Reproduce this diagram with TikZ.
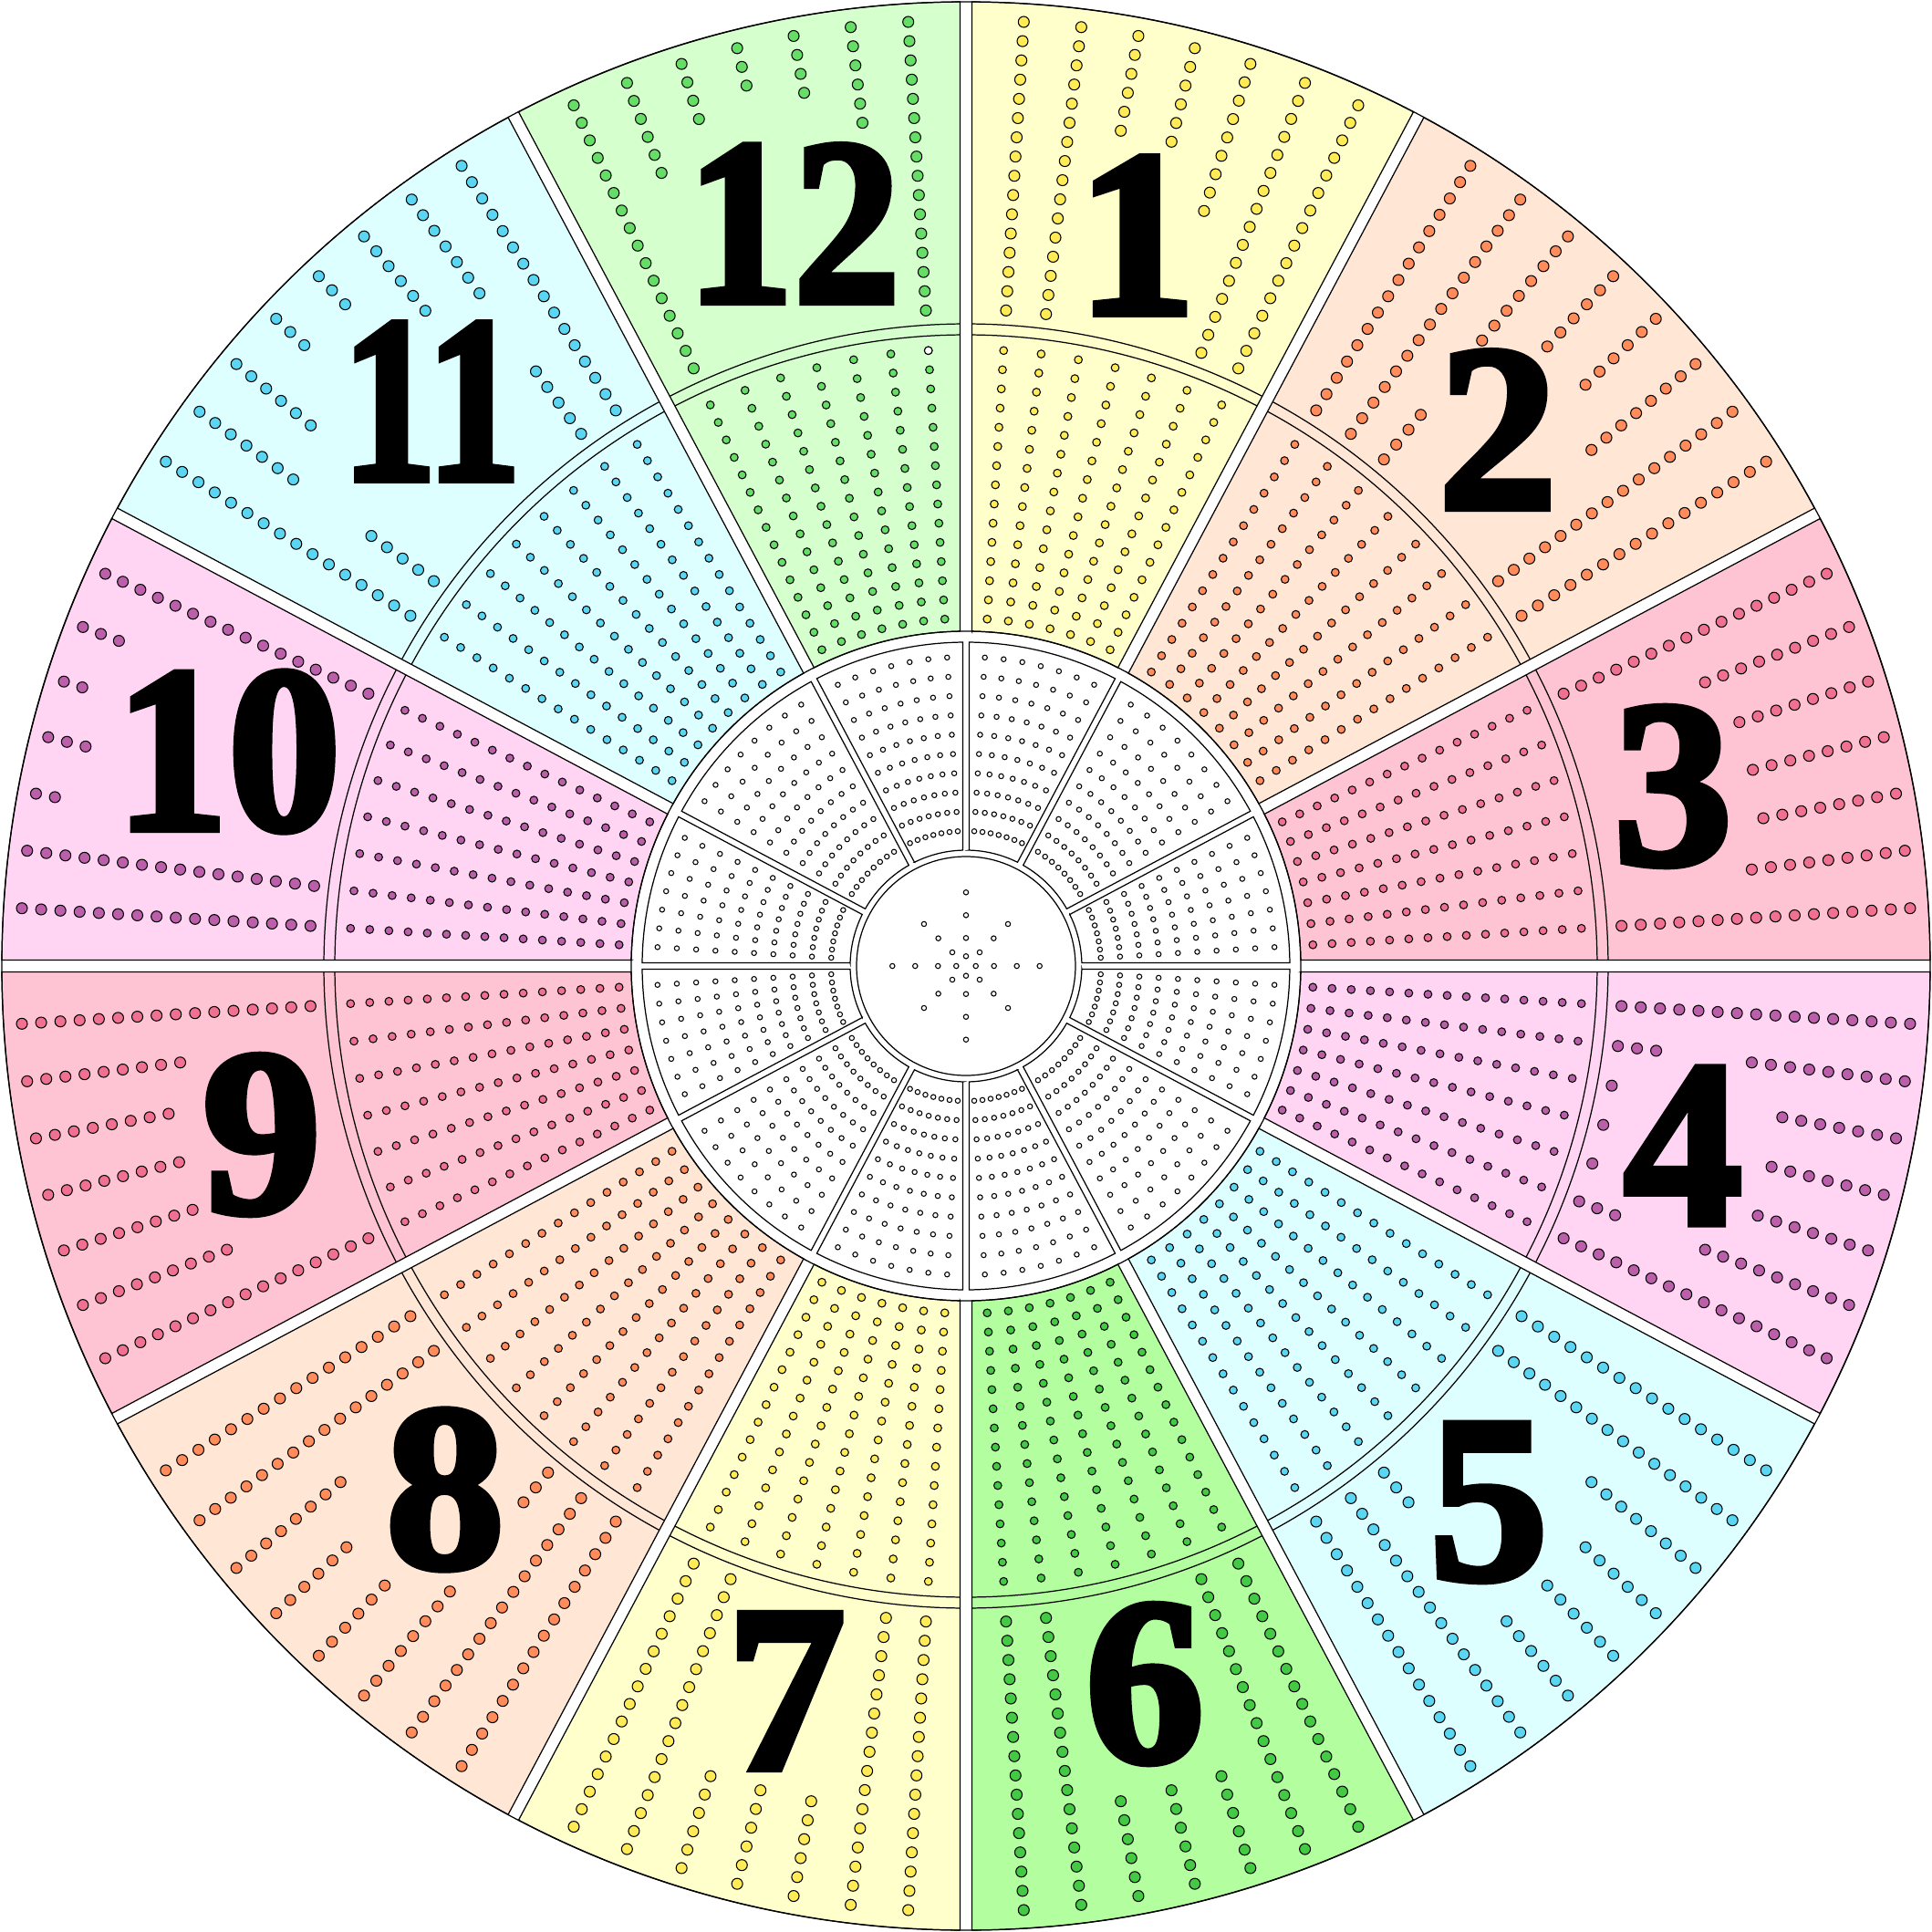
\documentclass[tikz,border=0pt]{standalone}
\usepackage{fontspec}
\newfontfamily\digitfont[FakeBold=3]{Liberation Serif Bold}

\definecolor{yellowbg}{RGB}{255,255,204}
\definecolor{yellowpeg}{RGB}{255,235,85}
\definecolor{peachbg}{RGB}{255,230,213}
\definecolor{peachpeg}{RGB}{255,140,90}
\definecolor{pinkbg}{RGB}{255,196,211}
\definecolor{pinkpeg}{RGB}{240,112,146}
\definecolor{mauvebg}{RGB}{255,213,243}
\definecolor{mauvepeg}{RGB}{187,95,170}
\definecolor{cyanbg}{RGB}{222,255,255}
\definecolor{cyanpeg}{RGB}{90,213,242}
\definecolor{greenbg}{RGB}{213,255,204}
\definecolor{greenpeg}{RGB}{102,221,102}
\definecolor{deepgreenbg}{RGB}{179,255,160}
\definecolor{deepgreenpeg}{RGB}{68,201,68}

% wedge between two radii, cut back from the radial lines by a half gap
% #1 options, #2 start angle, #3 end angle, #4 inner r, #5 outer r, #6 half gap
\newcommand\boardwedge[6]{%
  \pgfmathsetmacro\wAi{#2-asin(#6/#4)}%
  \pgfmathsetmacro\wAo{#2-asin(#6/#5)}%
  \pgfmathsetmacro\wBi{#3+asin(#6/#4)}%
  \pgfmathsetmacro\wBo{#3+asin(#6/#5)}%
  \path[#1] (\wAi:#4) -- (\wAo:#5) arc[start angle=\wAo, end angle=\wBo, radius=#5]
    -- (\wBi:#4) arc[start angle=\wBi, end angle=\wAi, radius=#4] -- cycle;
}
% arc across one sector: #1 start angle, #2 end angle, #3 r, #4 half gap
\newcommand\boardarc[4]{%
  \pgfmathsetmacro\wA{#1-asin(#4/#3)}%
  \pgfmathsetmacro\wB{#2+asin(#4/#3)}%
  \draw[rim] (\wA:#3) arc[start angle=\wA, end angle=\wB, radius=#3];
}

\begin{document}
\begin{tikzpicture}[
    rim/.style={draw=black, line width=0.35pt},
    peg/.style={fill=#1, draw=black, line width=0.3pt},
    hole/.style={fill=white, draw=black, line width=0.3pt},
    numlabel/.style={font=\digitfont\fontsize{74}{74}\selectfont, inner sep=0pt}
]
\fill[white] (-10.59,-10.59) rectangle (10.59,10.59);
\useasboundingbox (-10.59,-10.59) rectangle (10.59,10.59);

% --- coloured sectors with their peg tracks ---
\foreach \sa/\sb/\bg/\peg/\runs in {
    90/62/yellowbg/yellowpeg/{1/0/15,2/0/15,3/10/15,4/10/15,5/7/15,6/0/15,7/0/15},
    62/28/peachbg/peachpeg/{1/0/15,2/0/15,3/0/3,3/8/15,4/10/15,5/10/15,6/8/15,7/0/15,8/0/15},
    28/0/pinkbg/pinkpeg/{1/0/15,2/7/15,3/8/15,4/8/15,5/8/15,6/7/15,7/0/15},
    0/-28/mauvebg/mauvepeg/{1/0/15,2/0/2,2/7/15,3/0/0,3/9/15,4/0/0,4/9/15,5/0/0,5/9/15,6/0/2,6/7/15,7/0/15},
    -28/-62/cyanbg/cyanpeg/{1/0/15,2/0/15,3/8/15,4/10/15,5/10/15,6/0/2,6/10/15,7/0/15,8/0/15},
    -62/-90/deepgreenbg/deepgreenpeg/{1/0/15,2/0/15,3/10/15,4/10/15,5/10/15,6/0/15,7/0/15},
    -90/-118/yellowbg/yellowpeg/{1/0/15,2/0/15,3/10/15,4/10/15,5/10/15,6/0/15,7/0/15},
    -118/-152/peachbg/peachpeg/{1/0/15,2/0/15,3/0/2,3/8/15,4/10/15,5/10/15,6/8/15,7/0/15,8/0/15},
    -152/-180/pinkbg/pinkpeg/{1/0/15,2/7/15,3/8/15,4/8/15,5/8/15,6/7/15,7/0/15},
    180/152/mauvebg/mauvepeg/{1/0/15,2/0/15,3/14/15,4/13/15,5/14/15,6/13/15,7/0/15},
    152/118/cyanbg/cyanpeg/{1/0/15,2/0/4,2/9/15,3/10/15,4/13/15,5/13/15,6/10/15,7/0/4,7/9/15,8/0/15},
    118/90/greenbg/greenpeg/{1/0/15,2/10/15,3/12/15,4/13/15,5/12/15,6/10/15,7/0/15}}{
  \pgfmathsetmacro\wid{\sa-\sb}
  \pgfmathtruncatemacro\ntr{\wid>30 ? 8 : 7}
  \pgfmathsetmacro\gap{\wid>30 ? 3.65 : 3.5}
  \pgfmathsetmacro\smid{(\sa+\sb)/2}
  \boardwedge{fill=\bg, rim}{\sa}{\sb}{3.67}{10.57}{0.065}
  \boardarc{\sa}{\sb}{6.92}{0.065}
  \boardarc{\sa}{\sb}{7.04}{0.065}
  % middle ring
  \foreach \t in {1,...,\ntr}{
    \pgfmathsetmacro\tang{\smid+\gap*((\ntr+1)/2-\t)}
    \foreach \k in {0,...,14}
      \filldraw[peg=\peg] (\tang:{3.81+0.2107*\k}) circle (0.043);
  }
  % outer ring
  \foreach \t/\i/\j in \runs {
    \pgfmathsetmacro\tang{\smid+\gap*((\ntr+1)/2-\t)}
    \foreach \k in {\i,...,\j}
      \filldraw[peg=\peg] (\tang:{7.20+0.2113*\k}) circle (0.06);
  }
}
\filldraw[hole] (93.5:6.76) circle (0.043);

% --- white cells round the hub ---
\foreach \sa/\sb in {90/62,62/28,28/0,0/-28,-28/-62,-62/-90,-90/-118,
                     -118/-152,-152/-180,180/152,152/118,118/90}{
  \pgfmathsetmacro\wid{\sa-\sb}
  \pgfmathtruncatemacro\ntr{\wid>30 ? 8 : 7}
  \pgfmathsetmacro\gap{\wid>30 ? 3.65 : 3.5}
  \pgfmathsetmacro\smid{(\sa+\sb)/2}
  \boardwedge{fill=white, rim}{\sa}{\sb}{1.27}{3.55}{0.035}
  \foreach \t in {1,...,\ntr}{
    \pgfmathsetmacro\tang{\smid+\gap*((\ntr+1)/2-\t)}
    \foreach \k in {0,...,9}
      \filldraw[hole] (\tang:{1.48+0.212*\k}) circle (0.027);
  }
}

% --- rims ---
\draw[rim] (0,0) circle (10.57);
\draw[rim] (0,0) circle (3.67);
\draw[rim, fill=white] (0,0) circle (1.20) coordinate (hub);

% --- star in the hub ---
\foreach \ang in {0,90,180,270}
  \foreach \r in {0.107,0.307,0.557,0.807}
    \filldraw[hole] (hub) ++(\ang:\r) circle (0.027);
\foreach \ang in {45,135,225,315}
  \foreach \r in {0.212,0.429,0.651}
    \filldraw[hole] (hub) ++(\ang:\r) circle (0.027);

% --- numbers ---
\node[numlabel] (num1)  at (1.87,8.01)   {1};
\node[numlabel] (num2)  at (5.83,5.88)   {2};
\node[numlabel] (num3)  at (7.75,1.97)   {3};
\node[numlabel] (num4)  at (7.86,-1.97)  {4};
\node[numlabel] (num5)  at (5.73,-5.88)  {5};
\node[numlabel] (num6)  at (1.96,-7.87)  {6};
\node[numlabel] (num7)  at (-1.97,-7.95) {7};
\node[numlabel] (num8)  at (-5.71,-5.74) {8};
\node[numlabel] (num9)  at (-7.72,-1.85) {9};
\node[numlabel] (num10) at (-8.09,2.35)  {\scalebox{0.95}[1]{10}};
\node[numlabel] (num11) at (-5.86,6.19)  {\scalebox{0.8}[1]{11}};
\node[numlabel] (num12) at (-1.89,8.14)  {\scalebox{0.9}[1]{12}};

\end{tikzpicture}
\end{document}
